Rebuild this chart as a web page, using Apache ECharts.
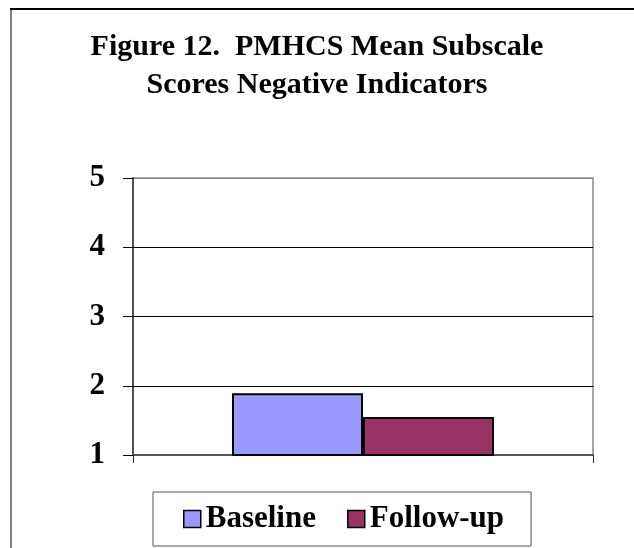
<!DOCTYPE html>
<html>
<head>
<meta charset="utf-8">
<script src="https://cdn.jsdelivr.net/npm/echarts@6/dist/echarts.min.js"></script>
<style>
  html, body { margin: 0; padding: 0; background: #fff; }
  #chart { width: 634px; height: 548px; }
</style>
</head>
<body>
<div id="chart"></div>
<script>
const titleText = 'Figure 12.  PMHCS Mean Subscale\nScores Negative Indicators';
const categories = ['Mean'];
const seriesNames = ['Baseline', 'Follow-up'];
const baselineValues = [1.89];
const followUpValues = [1.55];
const seriesColors = ['#9999ff', '#993366'];
const yTicks = { min: 1, max: 5, interval: 1 };

const serif = '"Liberation Serif", "Times New Roman", serif';
const chart = echarts.init(document.getElementById('chart'));

const option = {
  backgroundColor: '#fff',
  animation: false,
  title: {
    text: titleText,
    left: 'center',
    top: 23,
    textStyle: {
      fontFamily: serif,
      fontWeight: 'bold',
      fontSize: 30,
      lineHeight: 38,
      color: '#000'
    }
  },
  graphic: [
    // outer frame (left and top only visible)
    { type: 'line', shape: { x1: 11, y1: 9, x2: 11, y2: 548 }, style: { stroke: '#808080', lineWidth: 2 } },
    { type: 'line', shape: { x1: 10, y1: 9, x2: 634, y2: 9 }, style: { stroke: '#000', lineWidth: 2 } }
  ],
  legend: {
    data: seriesNames,
    left: 153,
    top: 492,
    padding: [11, 27, 11, 30],
    itemGap: 31,
    itemWidth: 17,
    itemHeight: 17,
    icon: 'rect',
    borderColor: '#555',
    borderWidth: 1,
    itemStyle: { borderColor: '#000', borderWidth: 1.5 },
    textStyle: {
      fontFamily: serif,
      fontWeight: 'bold',
      fontSize: 31,
      lineHeight: 32,
      color: '#000'
    }
  },
  grid: {
    left: 133,
    right: 41,
    top: 178,
    bottom: 93,
    show: true,
    borderColor: '#888',
    borderWidth: 1.5
  },
  xAxis: {
    type: 'category',
    data: categories,
    axisLine: { lineStyle: { color: '#555', width: 2 } },
    axisTick: { show: true, length: 8, lineStyle: { color: '#333' } },
    axisLabel: { show: false },
    splitLine: { show: false }
  },
  yAxis: {
    type: 'value',
    min: yTicks.min,
    max: yTicks.max,
    interval: yTicks.interval,
    axisLine: { show: true, lineStyle: { color: '#333', width: 1.5 } },
    axisTick: { show: true, length: 10, lineStyle: { color: '#000' } },
    axisLabel: {
      margin: 28,
      fontFamily: serif,
      fontWeight: 'bold',
      fontSize: 31,
      color: '#000'
    },
    splitLine: {
      show: true,
      lineStyle: { color: ['#555', '#000', '#000', '#000', '#888'], width: 1 }
    }
  },
  series: [
    {
      name: seriesNames[0],
      type: 'bar',
      data: baselineValues,
      barWidth: 131,
      barGap: '0%',
      itemStyle: { color: seriesColors[0], borderColor: '#000', borderWidth: 2 }
    },
    {
      name: seriesNames[1],
      type: 'bar',
      data: followUpValues,
      barWidth: 131,
      barGap: '0%',
      itemStyle: { color: seriesColors[1], borderColor: '#000', borderWidth: 2 }
    }
  ]
};

chart.setOption(option);
</script>
</body>
</html>
